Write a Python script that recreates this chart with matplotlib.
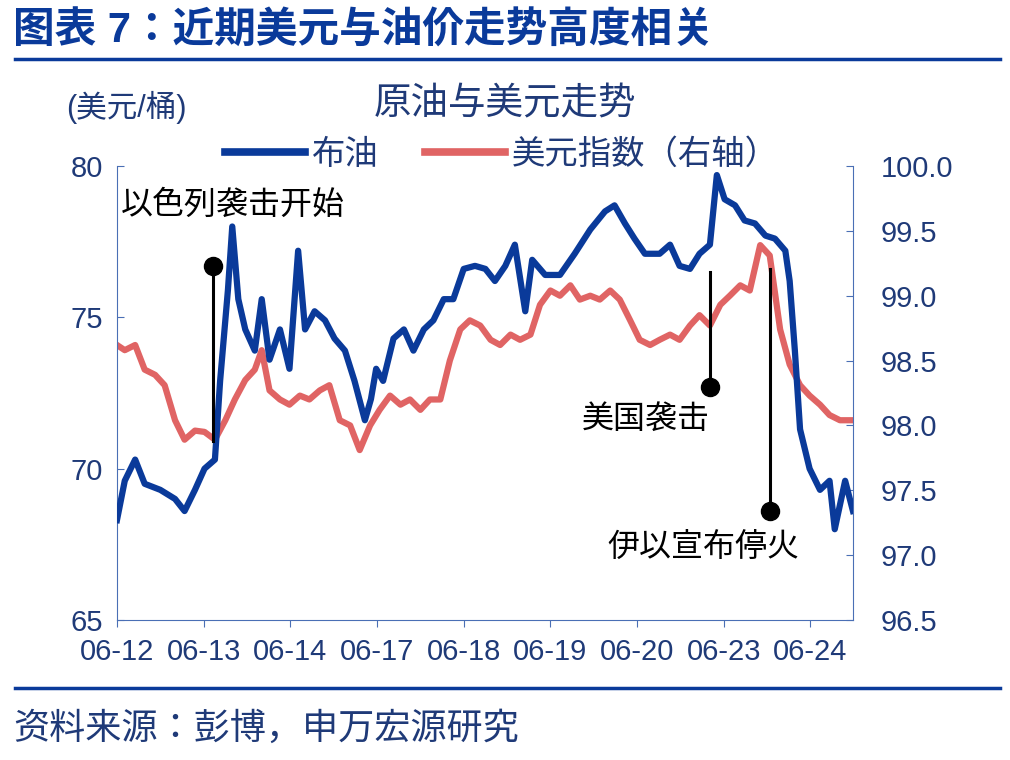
import matplotlib.pyplot as plt
from matplotlib.lines import Line2D

plt.rcParams['font.family'] = ['Liberation Sans', 'Noto Sans CJK SC', 'Noto Sans CJK JP',
                               'Noto Sans CJK TC', 'DejaVu Sans']

BLUE = '#0a3a9a'
RED = '#e06464'
NAVY = '#1f3a78'

day_labels = ['06-12', '06-13', '06-14', '06-17', '06-18', '06-19', '06-20', '06-23', '06-24']

# x in trading days from 06-12 open
oil_x = [0.00, 0.09, 0.21, 0.32, 0.50, 0.67, 0.78, 0.90, 1.01, 1.13, 1.19, 1.28, 1.33, 1.40,
         1.48, 1.59, 1.67, 1.76, 1.88, 1.99, 2.09, 2.17, 2.28, 2.40, 2.51, 2.63, 2.74, 2.86,
         2.93, 2.99, 3.07, 3.19, 3.31, 3.42, 3.54, 3.65, 3.77, 3.88, 4.00, 4.13, 4.25, 4.36,
         4.48, 4.59, 4.71, 4.79, 4.94, 5.11, 5.28, 5.46, 5.63, 5.74, 5.86, 5.97, 6.09, 6.26,
         6.38, 6.49, 6.61, 6.72, 6.84, 6.92, 7.01, 7.13, 7.24, 7.36, 7.48, 7.59, 7.71, 7.76,
         7.82, 7.88, 7.99, 8.11, 8.22, 8.28, 8.40, 8.49]
oil = [68.3, 69.6, 70.3, 69.5, 69.3, 69.0, 68.6, 69.3, 70.0, 70.3, 72.9, 75.9, 78.0, 75.6,
       74.6, 73.9, 75.6, 73.6, 74.6, 73.3, 77.2, 74.6, 75.2, 74.9, 74.3, 73.9, 72.9, 71.6,
       72.3, 73.3, 72.9, 74.3, 74.6, 73.9, 74.6, 74.9, 75.6, 75.6, 76.6, 76.7, 76.6, 76.2,
       76.7, 77.4, 75.2, 76.9, 76.4, 76.4, 77.1, 77.9, 78.5, 78.7, 78.1, 77.6, 77.1, 77.1,
       77.4, 76.7, 76.6, 77.1, 77.4, 79.7, 78.9, 78.7, 78.2, 78.1, 77.7, 77.6, 77.2, 76.2,
       73.9, 71.3, 70.0, 69.3, 69.6, 68.0, 69.6, 68.6]

usd_x = [0.00, 0.09, 0.21, 0.32, 0.44, 0.55, 0.67, 0.78, 0.90, 1.01, 1.13, 1.25, 1.36, 1.48,
         1.59, 1.67, 1.76, 1.88, 1.99, 2.11, 2.22, 2.34, 2.45, 2.57, 2.69, 2.80, 2.92, 3.03,
         3.15, 3.27, 3.38, 3.50, 3.61, 3.73, 3.84, 3.96, 4.07, 4.19, 4.31, 4.42, 4.54, 4.65,
         4.77, 4.88, 5.00, 5.11, 5.23, 5.34, 5.46, 5.57, 5.69, 5.80, 5.92, 6.03, 6.15, 6.26,
         6.38, 6.49, 6.61, 6.72, 6.84, 6.96, 7.07, 7.19, 7.30, 7.42, 7.53, 7.65, 7.76, 7.88,
         7.99, 8.11, 8.22, 8.34, 8.49]
usd = [98.62, 98.58, 98.62, 98.43, 98.39, 98.31, 98.04, 97.89, 97.96, 97.95, 97.89, 98.04,
       98.20, 98.35, 98.43, 98.58, 98.27, 98.20, 98.16, 98.23, 98.20, 98.27, 98.31, 98.04,
       98.00, 97.81, 98.00, 98.12, 98.23, 98.16, 98.20, 98.12, 98.20, 98.20, 98.50, 98.74,
       98.81, 98.77, 98.66, 98.62, 98.70, 98.66, 98.70, 98.93, 99.04, 99.00, 99.08, 98.97,
       99.00, 98.97, 99.04, 98.97, 98.81, 98.66, 98.62, 98.66, 98.70, 98.66, 98.77, 98.85,
       98.77, 98.93, 99.00, 99.08, 99.04, 99.39, 99.31, 98.74, 98.47, 98.31, 98.23, 98.16,
       98.08, 98.04, 98.04]

# events: (label, x, dot value, line end value, text x, text value)
events = [
    ('以色列袭击开始', 1.11, 76.7, 70.9, 0.05, 78.7),
    ('美国袭击', 6.84, 72.7, 76.5, 5.36, 71.6),
    ('伊以宣布停火', 7.53, 68.6, 76.6, 5.66, 67.4),
]

fig = plt.figure(figsize=(10.1, 7.6), dpi=100)
ax = fig.add_axes([0.1158, 0.1842, 0.7287, 0.5974])
ax2 = ax.twinx()

ax.plot(oil_x, oil, color=BLUE, lw=4.5, zorder=3)
ax2.plot(usd_x, usd, color=RED, lw=4.5, zorder=2)
ax.set_zorder(ax2.get_zorder() + 1)
ax.patch.set_visible(False)

ax.set_xlim(0, 8.49)
ax.set_ylim(65, 80)
ax2.set_ylim(96.5, 100)
ax.set_yticks([65, 70, 75, 80])
ax2.set_yticks([96.5, 97.0, 97.5, 98.0, 98.5, 99.0, 99.5, 100.0])
ax2.set_yticklabels([f'{v:.1f}' for v in ax2.get_yticks()])
ax.set_xticks(range(len(day_labels)))
ax.set_xticklabels(day_labels)

for a in (ax, ax2):
    for s in a.spines.values():
        s.set_visible(False)
    a.tick_params(labelsize=21, colors=NAVY, length=5, color='#4a6fb5', direction='in')
ax.spines['left'].set_visible(True)
ax.spines['bottom'].set_visible(True)
ax2.spines['right'].set_visible(True)
for s in (ax.spines['left'], ax.spines['bottom'], ax2.spines['right']):
    s.set_color('#4a6fb5')
ax.tick_params(axis='x', direction='out', pad=8)
ax.tick_params(axis='y', pad=10)
ax2.tick_params(axis='y', pad=20)

for label, x, dv, ev, tx, tv in events:
    ax.plot([x, x], [dv, ev], color='black', lw=2.2, zorder=4)
    ax.plot(x, dv, 'o', color='black', ms=13, zorder=5)
    ax.text(tx, tv, label, fontsize=23, color='black', va='center', zorder=6)

fig.text(0.013, 0.958, '图表 7：近期美元与油价走势高度相关', fontsize=30, fontweight='bold',
         color=BLUE, va='center')
fig.add_artist(Line2D([0.015, 0.99], [0.923, 0.923], color=BLUE, lw=2.5))
fig.add_artist(Line2D([0.015, 0.99], [0.095, 0.095], color=BLUE, lw=2.5))
fig.text(0.013, 0.04, '资料来源：彭博，申万宏源研究', fontsize=26, color=NAVY, va='center')
fig.text(0.5, 0.862, '原油与美元走势', fontsize=27, color=NAVY, ha='center', va='center')
fig.text(0.065, 0.858, '(美元/桶)', fontsize=22, color=NAVY, va='center')

handles = [Line2D([], [], color=BLUE, lw=5.5), Line2D([], [], color=RED, lw=5.5)]
fig.legend(handles, ['布油', '美元指数（右轴）'], loc='center', bbox_to_anchor=(0.497, 0.796),
           ncol=2, frameon=False, fontsize=24, handlelength=2.4, columnspacing=1.4,
           handletextpad=0.2, labelcolor=NAVY)

fig.savefig('out.png', dpi=100)
